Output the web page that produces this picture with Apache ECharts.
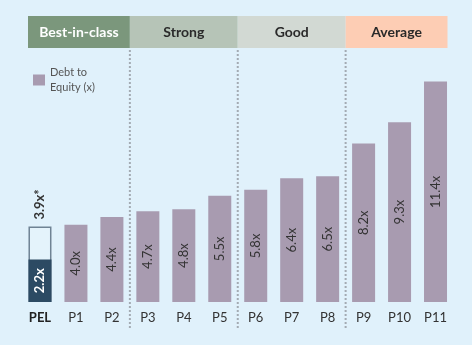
<!DOCTYPE html>
<html><head><meta charset="utf-8">
<script src="https://cdn.jsdelivr.net/npm/echarts@6/dist/echarts.min.js"></script>
<style>html,body{margin:0;padding:0;background:#e0f1fb;}#c{width:472px;height:345px;}</style>
</head><body><div id="c"></div>
<script>
const categories = ['PEL','P1','P2','P3','P4','P5','P6','P7','P8','P9','P10','P11'];
const debtToEquity = [2.2,4.0,4.4,4.7,4.8,5.5,5.8,6.4,6.5,8.2,9.3,11.4];
const pelReported = [3.9,null,null,null,null,null,null,null,null,null,null,null];
const tierNames = ['Best-in-class','Strong','Good','Average'];
const tierStartIndex = [0,3,6,9];
const tierEndIndex = [2,5,8,11];

const tierFill = ['#7b977c','#b6c4b7','#d2d9d3','#fdcdb4'];
const tierText = ['#ffffff','#2a2a2a','#2a2a2a','#2a2a2a'];
const FONT = 'Lato, "Open Sans", sans-serif';

const chart = echarts.init(document.getElementById('c'));
const option = {
  backgroundColor: '#e0f1fb',
  animation: false,
  textStyle: { fontFamily: FONT },
  grid: { left: 22, right: 18.5, top: 70, bottom: 43 },
  legend: {
    left: 28, top: 60, itemWidth: 12, itemHeight: 11, itemGap: 10,
    icon: 'rect',
    data: ['Debt to Equity (x)'],
    formatter: () => 'Debt to\nEquity (x)',
    textStyle: { color: '#555', fontSize: 11, lineHeight: 15, fontFamily: FONT }
  },
  xAxis: {
    type: 'category', data: categories,
    axisLine: { show: false }, axisTick: { show: false },
    axisLabel: {
      interval: 0, margin: 9, fontSize: 13, color: '#333', fontFamily: FONT,
      formatter: v => v === 'PEL' ? '{b|' + v + '}' : v,
      rich: { b: { fontWeight: 'bold', color: '#222', fontSize: 13, fontFamily: FONT } }
    }
  },
  yAxis: { type: 'value', min: 0, max: 12, show: false, splitLine: { show: false } },
  series: [
    {
      name: 'PEL reported', type: 'bar', barWidth: 23,
      data: pelReported,
      itemStyle: { color: 'rgba(255,255,255,0.15)', borderColor: '#6f8394', borderWidth: 1.5 },
      label: {
        show: true, position: 'top', rotate: 90, align: 'left', verticalAlign: 'middle', distance: 7,
        formatter: p => p.value + 'x*', color: '#333', fontSize: 13, fontWeight: 'bold', fontFamily: FONT
      },
      z: 2
    },
    {
      name: 'Debt to Equity (x)', type: 'bar', barWidth: 23, barGap: '-100%',
      data: debtToEquity.map((v, i) => i === 0 ? { value: v, itemStyle: { color: '#2c4a63' },
        label: { color: '#fff', fontWeight: 'bold' } } : v),
      itemStyle: { color: '#a89bb0' },
      label: {
        show: true, position: 'inside', rotate: 90, fontSize: 13, color: '#333', fontFamily: FONT,
        formatter: p => p.value.toFixed(1) + 'x'
      },
      z: 3
    }
  ]
};
chart.setOption(option);

const px = i => chart.convertToPixel({ xAxisIndex: 0 }, i);
const half = (px(1) - px(0)) / 2;
const graphics = [];
const hTop = 16, hH = 32;
tierNames.forEach((name, t) => {
  let x0 = px(tierStartIndex[t]) - half;
  let x1 = px(tierEndIndex[t]) + half;
  if (t === 0) x0 += 6;
  if (t === tierNames.length - 1) x1 -= 6;
  graphics.push({
    type: 'rect', shape: { x: x0, y: hTop, width: x1 - x0, height: hH },
    style: { fill: tierFill[t] }, silent: true
  });
  graphics.push({
    type: 'text', x: (x0 + x1) / 2, y: hTop + hH / 2,
    style: { text: name, fill: tierText[t], font: 'bold 14px ' + FONT, textAlign: 'center', textVerticalAlign: 'middle' },
    silent: true
  });
  if (t > 0) {
    graphics.push({
      type: 'line', shape: { x1: x0, y1: hTop + hH + 2, x2: x0, y2: 329 },
      style: { stroke: '#a3abb3', lineWidth: 2, lineDash: [2, 2] }, silent: true
    });
  }
});
chart.setOption({ graphic: graphics });
</script></body></html>
